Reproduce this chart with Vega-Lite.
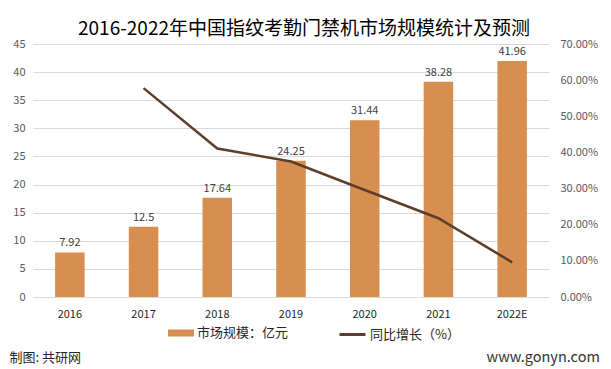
{
  "$schema": "https://vega.github.io/schema/vega-lite/v6.json",
  "autosize": "none",
  "width": 516,
  "height": 253,
  "padding": {"left": 33, "top": 44, "right": 62, "bottom": 72},
  "background": "white",
  "config": {
    "font": "Noto Sans CJK SC",
    "view": {"stroke": null},
    "axis": {"domain": false, "ticks": false}
  },
  "title": {
    "text": "2016-2022年中国指纹考勤门禁机市场规模统计及预测",
    "fontSize": 19,
    "fontWeight": "normal",
    "color": "#000000",
    "anchor": "middle",
    "dx": 13,
    "dy": 27,
    "offset": 7,
    "baseline": "bottom"
  },
  "data": {
    "values": [
      {"year": "2016", "value": 7.92, "growth": null},
      {"year": "2017", "value": 12.5, "growth": 0.578},
      {"year": "2018", "value": 17.64, "growth": 0.411},
      {"year": "2019", "value": 24.25, "growth": 0.375},
      {"year": "2020", "value": 31.44, "growth": 0.296},
      {"year": "2021", "value": 38.28, "growth": 0.218},
      {"year": "2022E", "value": 41.96, "growth": 0.096}
    ]
  },
  "encoding": {
    "x": {
      "field": "year",
      "type": "ordinal",
      "sort": null,
      "scale": {"paddingInner": 0.6, "paddingOuter": 0.3},
      "axis": {
        "title": null,
        "labelAngle": 0,
        "labelPadding": 11,
        "labelFontSize": 11,
        "labelColor": "#262626"
      }
    }
  },
  "layer": [
    {
      "encoding": {
        "y": {
          "field": "value",
          "type": "quantitative",
          "scale": {"domain": [0, 45], "nice": false},
          "axis": {
            "title": "制图: 共研网",
            "values": [0, 5, 10, 15, 20, 25, 30, 35, 40, 45],
            "labelOverlap": false,
            "grid": true,
            "gridColor": "#D9D9D9",
            "labelPadding": 8,
            "labelColor": "#595959",
            "labelFontSize": 11,
            "titleAngle": 0,
            "titleAlign": "left",
            "titleBaseline": "middle",
            "titleX": -24,
            "titleY": 313,
            "titleFontSize": 13,
            "titleFontWeight": "normal",
            "titleColor": "#262626"
          }
        }
      },
      "layer": [
        {
          "mark": {"type": "bar"},
          "encoding": {
            "color": {
              "datum": "市场规模：亿元",
              "type": "nominal",
              "scale": {"range": ["#D78E4F"]},
              "legend": {
                "title": null,
                "orient": "none",
                "legendX": 135,
                "legendY": 276,
                "symbolType": "M-1,-0.27H1V0.27H-1Z",
                "symbolSize": 676,
                "symbolStrokeWidth": 0,
                "labelFontSize": 13,
                "labelColor": "#262626",
                "labelOffset": 3,
                "padding": 0
              }
            }
          }
        },
        {
          "mark": {"type": "text", "dy": -9, "fontSize": 11, "color": "#404040"},
          "encoding": {
            "text": {"field": "value", "type": "nominal"}
          }
        }
      ]
    },
    {
      "mark": {"type": "line", "strokeWidth": 2.5},
      "encoding": {
        "y": {
          "field": "growth",
          "type": "quantitative",
          "scale": {"domain": [0, 0.7], "nice": false},
          "axis": {
            "orient": "right",
            "format": ".2%",
            "values": [0, 0.1, 0.2, 0.3, 0.4, 0.5, 0.6, 0.7],
            "labelOverlap": false,
            "grid": false,
            "labelPadding": 11,
            "labelColor": "#595959",
            "labelFontSize": 11,
            "title": "www.gonyn.com",
            "titleAngle": 0,
            "titleAlign": "left",
            "titleBaseline": "middle",
            "titleX": -63,
            "titleY": 313,
            "titleFontSize": 14.5,
            "titleFontWeight": "normal",
            "titleColor": "#333333"
          }
        },
        "stroke": {
          "datum": "同比增长（%）",
          "type": "nominal",
          "scale": {"range": ["#5E3E2A"]},
          "legend": {
            "title": null,
            "orient": "none",
            "legendX": 305,
            "legendY": 276,
            "symbolType": "stroke",
            "symbolSize": 676,
            "symbolStrokeWidth": 3,
            "labelFontSize": 13,
            "labelColor": "#262626",
            "labelOffset": 3,
            "padding": 0
          }
        }
      }
    }
  ],
  "resolve": {"scale": {"y": "independent"}}
}
